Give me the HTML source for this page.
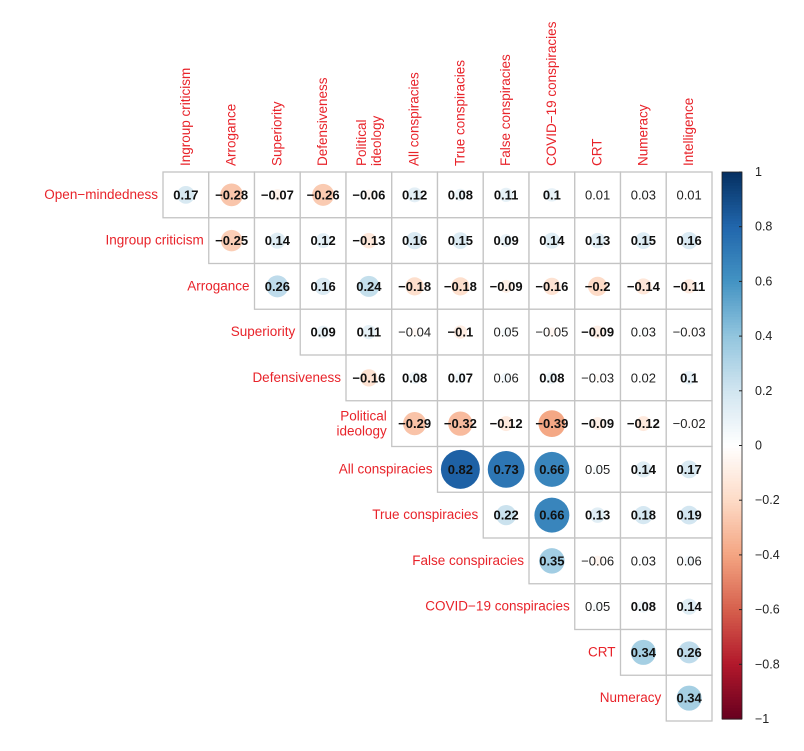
<!DOCTYPE html>
<html><head><meta charset="utf-8"><style>
body{margin:0;background:#fff;}
svg text{font-family:"Liberation Sans",Arial,sans-serif;}
</style></head><body>
<svg id="chart" width="804" height="746"></svg>
<script>
const rowLabels=["Open\u2212mindedness","Ingroup criticism","Arrogance","Superiority","Defensiveness","Political ideology","All conspiracies","True conspiracies","False conspiracies","COVID\u221219 conspiracies","CRT","Numeracy"];
const colLabels=["Ingroup criticism","Arrogance","Superiority","Defensiveness","Political ideology","All conspiracies","True conspiracies","False conspiracies","COVID\u221219 conspiracies","CRT","Numeracy","Intelligence"];
const values=[
[0.17,-0.28,-0.07,-0.26,-0.06,0.12,0.08,0.11,0.1,0.01,0.03,0.01],
[-0.25,0.14,0.12,-0.13,0.16,0.15,0.09,0.14,0.13,0.15,0.16],
[0.26,0.16,0.24,-0.18,-0.18,-0.09,-0.16,-0.2,-0.14,-0.11],
[0.09,0.11,-0.04,-0.1,0.05,-0.05,-0.09,0.03,-0.03],
[-0.16,0.08,0.07,0.06,0.08,-0.03,0.02,0.1],
[-0.29,-0.32,-0.12,-0.39,-0.09,-0.12,-0.02],
[0.82,0.73,0.66,0.05,0.14,0.17],
[0.22,0.66,0.13,0.18,0.19],
[0.35,-0.06,0.03,0.06],
[0.05,0.08,0.14],
[0.34,0.26],
[0.34]];
const notSig=["0,9","0,10","0,11","3,2","3,4","3,5","3,7","3,8","4,3","4,5","4,6","5,6","6,3","8,1","8,2","8,3","9,0"];
const cbTicks=[1,0.8,0.6,0.4,0.2,0,-0.2,-0.4,-0.6,-0.8,-1];
const pal=["#67001F","#B2182B","#D6604D","#F4A582","#FDDBC7","#FFFFFF","#D1E5F0","#92C5DE","#4393C3","#2166AC","#053061"];
const L=163,T=172,C=45.75,N=12;
const svg=document.getElementById('chart');const ns="http://www.w3.org/2000/svg";
function mk(t,a,p){const e=document.createElementNS(ns,t);for(const k in a)e.setAttribute(k,a[k]);(p||svg).appendChild(e);return e;}
function hex(c){return [1,3,5].map(i=>parseInt(c.substr(i,2),16));}
function col(v){const t=(v+1)/2*10;const i=Math.min(9,Math.floor(t));const f=t-i;const a=hex(pal[i]),b=hex(pal[i+1]);return "rgb("+a.map((x,k)=>Math.round(x+(b[k]-x)*f)).join(",")+")";}
const xs=j=>L+j*C, ys=i=>T+i*C;
for(let i=0;i<N;i++){
  for(let k=0;k<values[i].length;k++){
    const j=i+k,v=values[i][k],cx=xs(j)+C/2,cy=ys(i)+C/2;
    const r=mk('rect',{x:xs(j),y:ys(i),width:C,height:C,fill:'#fff',stroke:'#c4c4c4','stroke-width':1.3});
    
    
    const c=mk('circle',{cx:cx,cy:cy,r:21.5*Math.sqrt(Math.abs(v)),fill:col(v)});
    
    
    const bold=!notSig.includes(i+","+k);
    const t=mk('text',{x:cx,y:cy+4.5,'text-anchor':'middle','font-size':13,'font-weight':bold?'bold':'normal',fill:bold?'#111':'#222'});
    t.textContent=String(v).replace('-','\u2212');
    
    
  }
  const lab=rowLabels[i];const lx=xs(i)-5,ly=ys(i)+C/2+4;
  if(lab==="Political ideology"){
    const t=mk('text',{x:lx,y:ly-7,'text-anchor':'end','font-size':13.5,fill:'#e8232a'});t.textContent="Political";
    
    const t2=mk('text',{x:lx,y:ly+8,'text-anchor':'end','font-size':13.5,fill:'#e8232a'});t2.textContent="ideology";
    
  } else {
    const t=mk('text',{x:lx,y:ly,'text-anchor':'end','font-size':13.5,fill:'#e8232a'});t.textContent=lab;
    
  }
}
colLabels.forEach((lab,j)=>{
  const x=xs(j)+C/2+4,y=T-6;
  if(lab==="Political ideology"){
    const t=mk('text',{x:0,y:0,'font-size':13.5,fill:'#e8232a',transform:`translate(${x-7},${y}) rotate(-90)`});t.textContent="Political";
    
    const t2=mk('text',{x:0,y:0,'font-size':13.5,fill:'#e8232a',transform:`translate(${x+8},${y}) rotate(-90)`});t2.textContent="ideology";
    
  } else {
    const t=mk('text',{x:0,y:0,'font-size':13.5,fill:'#e8232a',transform:`translate(${x},${y}) rotate(-90)`});t.textContent=lab;
    
  }
});
const cbX=722,cbW=20,cbT=172,cbB=719;
const g=mk('g',{});
const steps=200;
for(let s=0;s<steps;s++){const v=1-2*(s+0.5)/steps;mk('rect',{x:cbX,y:cbT+(cbB-cbT)*s/steps,width:cbW,height:(cbB-cbT)/steps+0.6,fill:col(v)},g);}
mk('rect',{x:cbX,y:cbT,width:cbW,height:cbB-cbT,fill:'none',stroke:'#222','stroke-width':0.8},g);
cbTicks.forEach(v=>{const y=cbT+(1-v)/2*(cbB-cbT);
  mk('line',{x1:cbX+cbW-3,x2:cbX+cbW,y1:y,y2:y,stroke:'#222'},g);
  const t=mk('text',{x:755,y:y+4,'font-size':12.5,fill:'#222'},g);t.textContent=String(v).replace('-','\u2212');
  });
</script>
</body></html>
